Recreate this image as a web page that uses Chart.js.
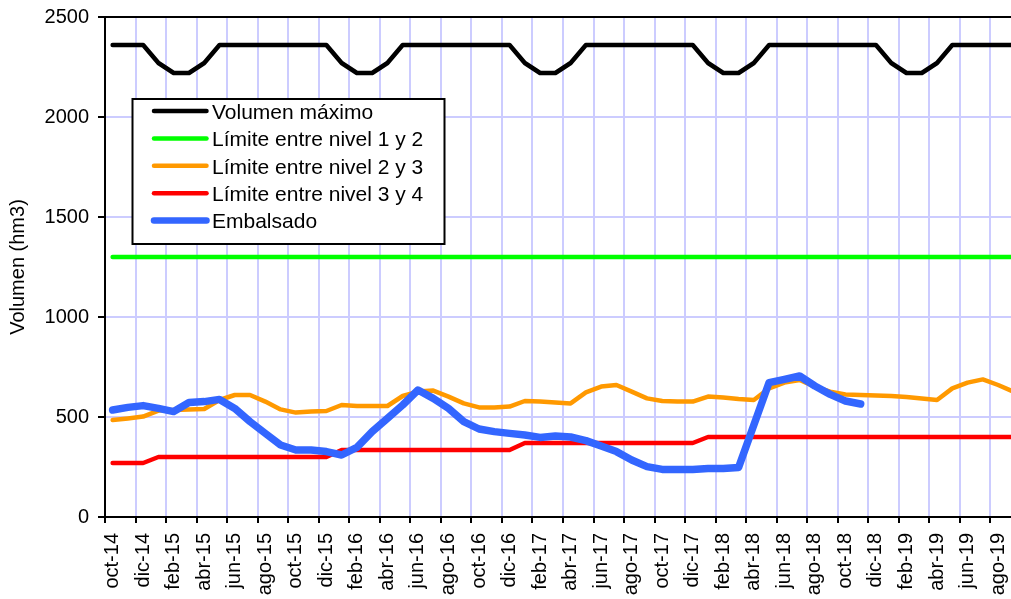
<!DOCTYPE html>
<html lang="es">
<head>
<meta charset="utf-8">
<title>Volumen embalsado</title>
<script src="https://cdn.jsdelivr.net/npm/chart.js@4.4.1/dist/chart.umd.min.js"></script>
<style>
  html, body { margin: 0; padding: 0; background: #fff; overflow: hidden; }
  #wrap { width: 1011px; height: 599px; overflow: hidden; }
</style>
</head>
<body>
<div id="wrap"><canvas id="chart" width="1031" height="599"></canvas></div>
<script>
var MONTHS = [
  "oct-14", "nov-14", "dic-14",
  "ene-15", "feb-15", "mar-15", "abr-15", "may-15", "jun-15", "jul-15", "ago-15", "sep-15", "oct-15", "nov-15", "dic-15",
  "ene-16", "feb-16", "mar-16", "abr-16", "may-16", "jun-16", "jul-16", "ago-16", "sep-16", "oct-16", "nov-16", "dic-16",
  "ene-17", "feb-17", "mar-17", "abr-17", "may-17", "jun-17", "jul-17", "ago-17", "sep-17", "oct-17", "nov-17", "dic-17",
  "ene-18", "feb-18", "mar-18", "abr-18", "may-18", "jun-18", "jul-18", "ago-18", "sep-18", "oct-18", "nov-18", "dic-18",
  "ene-19", "feb-19", "mar-19", "abr-19", "may-19", "jun-19", "jul-19", "ago-19", "sep-19"
];

var VOLUMEN_MAXIMO = [
  2360, 2360, 2360,
  2270, 2220, 2220, 2270, 2360, 2360, 2360, 2360, 2360, 2360, 2360, 2360,
  2270, 2220, 2220, 2270, 2360, 2360, 2360, 2360, 2360, 2360, 2360, 2360,
  2270, 2220, 2220, 2270, 2360, 2360, 2360, 2360, 2360, 2360, 2360, 2360,
  2270, 2220, 2220, 2270, 2360, 2360, 2360, 2360, 2360, 2360, 2360, 2360,
  2270, 2220, 2220, 2270, 2360, 2360, 2360, 2360, 2360
];

var LIMITE_1_2 = [
  1300, 1300, 1300,
  1300, 1300, 1300, 1300, 1300, 1300, 1300, 1300, 1300, 1300, 1300, 1300,
  1300, 1300, 1300, 1300, 1300, 1300, 1300, 1300, 1300, 1300, 1300, 1300,
  1300, 1300, 1300, 1300, 1300, 1300, 1300, 1300, 1300, 1300, 1300, 1300,
  1300, 1300, 1300, 1300, 1300, 1300, 1300, 1300, 1300, 1300, 1300, 1300,
  1300, 1300, 1300, 1300, 1300, 1300, 1300, 1300, 1300
];

var LIMITE_2_3 = [
  485, 493, 502,
  532, 535, 538, 540, 585, 610, 610, 577, 538, 522, 527, 530,
  560, 555, 555, 555, 605, 627, 632, 602, 568, 548, 548, 552,
  580, 577, 572, 568, 623, 652, 660, 627, 593, 580, 578, 577,
  602, 597, 590, 585, 643, 672, 685, 652, 627, 613, 610, 607,
  605, 600, 593, 585, 643, 672, 688, 660, 627
];

var LIMITE_3_4 = [
  270, 270, 270,
  300, 300, 300, 300, 300, 300, 300, 300, 300, 300, 300, 300,
  335, 335, 335, 335, 335, 335, 335, 335, 335, 335, 335, 335,
  370, 370, 370, 370, 370, 370, 370, 370, 370, 370, 370, 370,
  400, 400, 400, 400, 400, 400, 400, 400, 400, 400, 400, 400,
  400, 400, 400, 400, 400, 400, 400, 400, 400
];

var EMBALSADO = [
  535, 548, 557,
  543, 527, 572, 577, 588, 543, 477, 418, 360, 335, 335, 327,
  310, 348, 427, 493, 560, 635, 593, 543, 477, 440, 427, 418,
  410, 398, 405, 400, 382, 355, 327, 285, 252, 238, 238, 238,
  242, 243, 248, 460, 672, 688, 705, 655, 613, 580, 565, null,
  null, null, null, null, null, null, null, null, null
];

var Y_TICKS = [0, 500, 1000, 1500, 2000, 2500];

var FONT = "'Liberation Sans', Arial, Helvetica, sans-serif";
var GRID = "#ccccff";

Chart.defaults.font.family = FONT;
Chart.defaults.color = "#000";

// legend drawn as a framed box inside the plot area, like the original
var boxLegend = {
  id: "boxLegend",
  afterDraw: function (chart) {
    var ctx = chart.ctx;
    var area = chart.chartArea;
    var x = area.left + 27.5;
    var y = area.top + 82;
    var w = 312;
    var h = 145;

    ctx.save();
    ctx.fillStyle = "#fff";
    ctx.fillRect(x, y, w, h);
    ctx.lineWidth = 2;
    ctx.strokeStyle = "#000";
    ctx.strokeRect(x, y, w, h);

    ctx.font = "21px " + FONT;
    ctx.textBaseline = "middle";
    ctx.textAlign = "left";
    ctx.lineCap = "round";

    chart.data.datasets.forEach(function (dataset, i) {
      var rowY = y + 12 + i * 27.4;
      ctx.strokeStyle = dataset.borderColor;
      ctx.lineWidth = dataset.legendWidth;
      ctx.beginPath();
      ctx.moveTo(x + 21.5, rowY);
      ctx.lineTo(x + 74, rowY);
      ctx.stroke();
      ctx.fillStyle = "#000";
      ctx.fillText(dataset.label, x + 79.5, rowY + 2);
    });
    ctx.restore();
  }
};

function lineSet(label, data, color, width, legendWidth, order) {
  return {
    label: label,
    data: data,
    borderColor: color,
    backgroundColor: color,
    borderWidth: width,
    legendWidth: legendWidth,
    borderJoinStyle: "round",
    borderCapStyle: "round",
    pointRadius: 0,
    pointHoverRadius: 0,
    tension: 0,
    fill: false,
    order: order
  };
}

new Chart(document.getElementById("chart"), {
  type: "line",
  data: {
    labels: MONTHS,
    datasets: [
      lineSet("Volumen máximo", VOLUMEN_MAXIMO, "#000000", 4.5, 4.5, 1),
      lineSet("Límite entre nivel 1 y 2", LIMITE_1_2, "#00ff00", 4.5, 4.5, 1),
      lineSet("Límite entre nivel 2 y 3", LIMITE_2_3, "#ff9900", 4.5, 4.5, 1),
      lineSet("Límite entre nivel 3 y 4", LIMITE_3_4, "#ff0000", 4.5, 4.5, 1),
      lineSet("Embalsado", EMBALSADO, "#3366ff", 7.5, 6.5, 0)
    ]
  },
  options: {
    responsive: false,
    animation: false,
    events: [],
    layout: { padding: { top: 17, right: 10, left: 0, bottom: 0 } },
    plugins: {
      legend: { display: false },
      tooltip: { enabled: false }
    },
    scales: {
      x: {
        offset: true,
        afterFit: function (scale) {
          scale.height = 82;
          scale.paddingLeft = 0;
          scale.paddingRight = 0;
        },
        border: { color: "#000", width: 2 },
        grid: {
          offset: true,
          lineWidth: 2,
          tickLength: 6,
          color: function (c) { return c.index % 2 === 0 ? GRID : "rgba(0,0,0,0)"; },
          tickColor: function (c) { return c.index % 2 === 0 ? "#000" : "rgba(0,0,0,0)"; },
          tickWidth: 2
        },
        ticks: {
          autoSkip: false,
          minRotation: 90,
          maxRotation: 90,
          padding: 10,
          font: { size: 20 },
          callback: function (value, index) {
            return index % 2 === 0 ? this.getLabelForValue(value) : "";
          }
        }
      },
      y: {
        min: 0,
        max: 2500,
        afterFit: function (scale) {
          scale.width = 105;
          scale.paddingTop = 0;
          scale.paddingBottom = 0;
        },
        afterBuildTicks: function (scale) {
          scale.ticks = Y_TICKS.map(function (v) { return { value: v }; });
        },
        border: { color: "#000", width: 2 },
        grid: {
          lineWidth: 2,
          tickLength: 7,
          tickWidth: 2,
          tickColor: "#000",
          color: function (c) {
            if (c.tick && c.tick.value === 2500) return "#000";
            if (c.tick && c.tick.value === 0) return "rgba(0,0,0,0)";
            return GRID;
          }
        },
        ticks: {
          padding: 9,
          font: { size: 20 },
          callback: function (value) { return String(value); }
        },
        title: {
          display: true,
          text: "Volumen (hm3)",
          font: { size: 20 },
          padding: { top: 6, bottom: 0 }
        }
      }
    }
  },
  plugins: [boxLegend]
});
</script>
</body>
</html>
